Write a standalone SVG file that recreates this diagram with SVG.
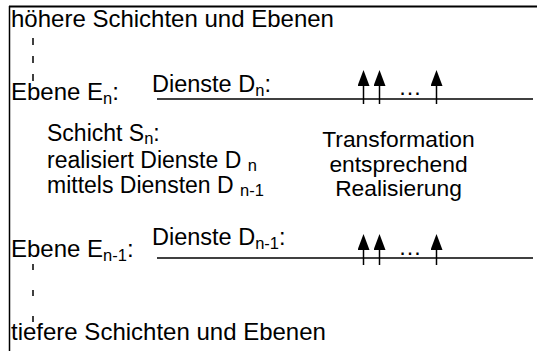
<svg xmlns="http://www.w3.org/2000/svg" width="537" height="351" viewBox="0 0 537 351">
<style>
text{font-family:"Liberation Sans",Arial,sans-serif;font-size:23.5px;fill:#000}
.edge{font-size:24px}
.mid{font-size:23px}
.tr{font-size:22.8px}
.sub{font-size:16.5px}
.ln{stroke:#000;stroke-width:1.5;fill:none}
.dash{stroke:#000;stroke-width:1.5;fill:none}
</style>
<defs>
<marker id="ah" markerWidth="16" markerHeight="12" refX="1" refY="6" orient="auto" markerUnits="userSpaceOnUse" viewBox="0 0 16 12">
<path d="M16,6 L0,0 L0,12 Z" fill="#000"/>
</marker>
</defs>
<rect width="537" height="351" fill="#fff"/>
<g id="frame">
<line class="ln" x1="9.5" y1="6" x2="9.5" y2="351"/>
<line x1="9" y1="6.5" x2="537" y2="6.5" stroke="#000" stroke-width="2"/>
</g>
<g id="upper">
<text class="edge" x="11" y="27">höhere Schichten und Ebenen</text>
<line class="dash" x1="33" y1="38" x2="33" y2="84" stroke-dasharray="7 11"/>
</g>
<g id="level-n">
<text class="edge" x="11" y="100">Ebene E<tspan class="sub" dy="4">n</tspan><tspan dy="-4">:</tspan></text>
<text x="152" y="92">Dienste D<tspan class="sub" dy="4">n</tspan><tspan dy="-4">:</tspan></text>
<text x="410" y="95" text-anchor="middle">…</text>
</g>
<g id="layer-n">
<text class="mid" x="47" y="141">Schicht S<tspan class="sub" dy="3">n</tspan><tspan dy="-3">:</tspan></text>
<text class="mid" x="47" y="168">realisiert Dienste D <tspan class="sub" dy="3">n</tspan></text>
<text class="mid" x="47" y="193">mittels Diensten D <tspan class="sub" dy="3">n-1</tspan></text>
</g>
<g id="transformation">
<text class="tr" x="398.5" y="147" text-anchor="middle">Transformation</text>
<text class="tr" x="398.5" y="172" text-anchor="middle">entsprechend</text>
<text class="tr" x="398.5" y="196" text-anchor="middle">Realisierung</text>
</g>
<g id="level-n-1">
<text class="edge" x="11" y="257">Ebene E<tspan class="sub" dy="4">n-1</tspan><tspan dy="-4">:</tspan></text>
<text x="152" y="245">Dienste D<tspan class="sub" dy="4">n-1</tspan><tspan dy="-4">:</tspan></text>
<text x="410" y="255" text-anchor="middle">…</text>
</g>
<g id="lower">
<line class="dash" x1="33" y1="264" x2="33" y2="323" stroke-dasharray="6 20"/>
<text class="edge" x="11" y="340">tiefere Schichten und Ebenen</text>
</g>
<g id="connectors">
<line class="ln" x1="157" y1="99" x2="533" y2="99"/>
<line class="ln" x1="157" y1="258" x2="533" y2="258"/>
<line class="ln" x1="363.5" y1="104" x2="363.5" y2="85" marker-end="url(#ah)"/>
<line class="ln" x1="379.5" y1="104" x2="379.5" y2="85" marker-end="url(#ah)"/>
<line class="ln" x1="436.5" y1="104" x2="436.5" y2="85" marker-end="url(#ah)"/>
<line class="ln" x1="363.5" y1="265" x2="363.5" y2="249" marker-end="url(#ah)"/>
<line class="ln" x1="379.5" y1="265" x2="379.5" y2="249" marker-end="url(#ah)"/>
<line class="ln" x1="436.5" y1="265" x2="436.5" y2="249" marker-end="url(#ah)"/>
</g>
</svg>
